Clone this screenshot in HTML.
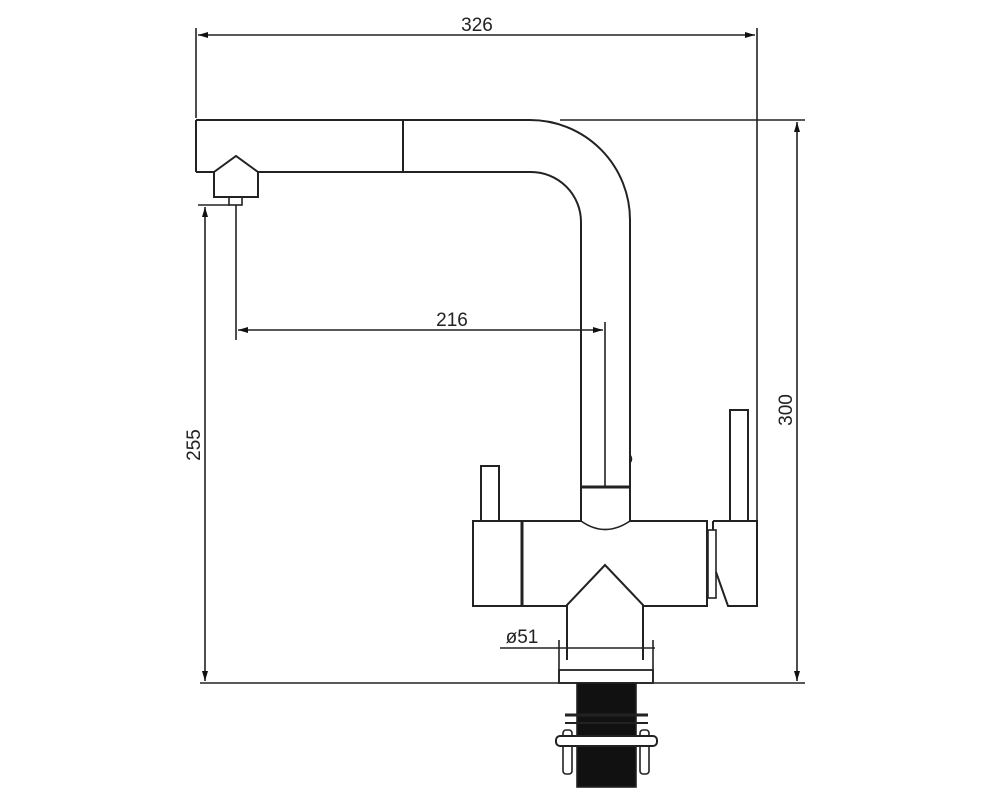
<!DOCTYPE html>
<html><head><style>body{margin:0;background:#fff}svg{display:block}</style></head><body>
<svg width="999" height="800" viewBox="0 0 999 800" xmlns="http://www.w3.org/2000/svg">
<defs><marker id="a" markerWidth="10" markerHeight="6" refX="10" refY="3" orient="auto-start-reverse" markerUnits="userSpaceOnUse"><path d="M0,0 L10,3 L0,6z" fill="#111"/></marker></defs>
<g stroke="#222" stroke-width="1.6" fill="none" font-family="Liberation Sans, sans-serif">
<!-- top dim -->
<line x1="196" y1="28" x2="196" y2="118"/><line x1="757" y1="28" x2="757" y2="520"/>
<line x1="198" y1="35" x2="755" y2="35" marker-start="url(#a)" marker-end="url(#a)"/>
<!-- spout -->
<path d="M196,120 H530 A100,100 0 0 1 630,220 V487" stroke-width="2"/>
<path d="M258,172 H531 A50,50 0 0 1 581,222 V487" stroke-width="2"/>
<line x1="196" y1="120" x2="196" y2="172" stroke-width="2"/>
<line x1="196" y1="172" x2="214" y2="172" stroke-width="2"/>
<line x1="403" y1="120" x2="403" y2="172" stroke-width="2"/>
<path d="M214,172 L236,156 L258,172 V197 H214 Z" stroke-width="2"/>
<rect x="229" y="197" width="13" height="8"/>
<line x1="198" y1="205" x2="230" y2="205"/>
<line x1="236" y1="205" x2="236" y2="340"/>
<!-- 216 -->
<line x1="238" y1="330" x2="603" y2="330" marker-start="url(#a)" marker-end="url(#a)"/>
<line x1="605" y1="322" x2="605" y2="487"/>
<path d="M630,455 q3,4 0,8" />
<!-- collar -->
<line x1="581" y1="487" x2="630" y2="487" stroke-width="3"/>
<line x1="581" y1="487" x2="581" y2="521" stroke-width="2"/><line x1="630" y1="487" x2="630" y2="521" stroke-width="2"/>
<path d="M581,521 Q605,538 630,521"/>
<!-- levers -->
<rect x="481" y="466" width="18" height="55" stroke-width="2"/>
<rect x="730" y="410" width="18" height="111" stroke-width="2"/>
<!-- body -->
<path d="M581,521 H473 V606 H567 M643,606 H707 V521 H630" stroke-width="2"/>
<line x1="522" y1="521" x2="522" y2="606" stroke-width="3"/>
<rect x="708" y="530" width="8" height="68" stroke-width="1.6"/>
<path d="M713,521 H757 V606 H728 L716,572 M713,521 V530" stroke-width="2"/>
<path d="M567,620 V605 L605,565 L643,605 V660 M567,605 V660" stroke-width="2"/>
<!-- Ø51 -->
<line x1="500" y1="648" x2="655" y2="648"/>
<line x1="559" y1="640" x2="559" y2="682"/><line x1="653" y1="640" x2="653" y2="682"/>
<rect x="559" y="670" width="94" height="13" stroke-width="1.8"/>
<!-- bottom line -->
<line x1="200" y1="683" x2="805" y2="683"/>
<rect x="577" y="683" width="59" height="104" fill="#111"/>
<line x1="565" y1="715" x2="648" y2="715" stroke-width="3"/><line x1="565" y1="723" x2="648" y2="723" stroke-width="2"/>
<rect x="563" y="730" width="9" height="44" rx="3" fill="#fff"/><rect x="640" y="730" width="9" height="44" rx="3" fill="#fff"/>
<rect x="556" y="736" width="101" height="10" rx="4" fill="#fff" stroke-width="2"/>
<!-- right 300 -->
<line x1="560" y1="120" x2="805" y2="120"/>
<line x1="797" y1="122" x2="797" y2="681" marker-start="url(#a)" marker-end="url(#a)"/>
<!-- 255 -->
<line x1="205" y1="207" x2="205" y2="681" marker-start="url(#a)" marker-end="url(#a)"/>
</g>
<g font-family="Liberation Sans, sans-serif" font-size="19" fill="#222">
<text x="477" y="31" text-anchor="middle">326</text>
<text x="452" y="326" text-anchor="middle">216</text>
<text x="522" y="643" text-anchor="middle">ø51</text>
<text transform="translate(792,410) rotate(-90)" text-anchor="middle">300</text>
<text transform="translate(200,445) rotate(-90)" text-anchor="middle">255</text>
</g>
</svg>
</body></html>
